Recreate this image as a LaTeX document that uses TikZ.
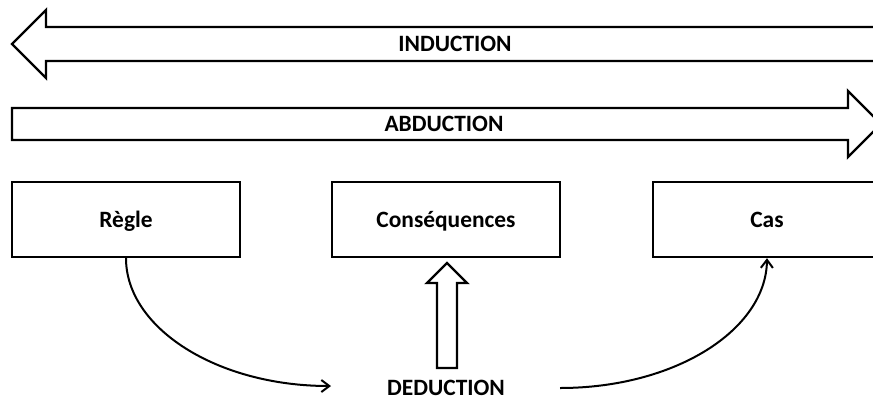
\documentclass[tikz,border=0pt]{standalone}
\usepackage{fontspec}
\setmainfont{Carlito}
\usetikzlibrary{arrows.meta}
\begin{document}
\begin{tikzpicture}[x=1bp,y=-1bp,line width=2.4bp,line join=miter,
  lbl/.style={font=\fontsize{23.5}{26}\selectfont\bfseries,inner sep=0pt,text height=15bp,text depth=0bp},
  box/.style={draw,line width=2.4bp,minimum width=228bp,minimum height=75bp,inner sep=0pt,text height=15bp,text depth=0bp,font=\fontsize{23.5}{26}\selectfont\bfseries},
  hollow/.style={draw,line width=2.4bp,fill=white},
  conn/.style={line width=2bp,-{Straight Barb[length=8bp,width=12bp]}}]
\clip (0,0) rectangle (873,399);
\fill[white] (0,0) rectangle (873,399);
% INDUCTION arrow
\draw[hollow] (12,44) -- (46,10) -- (46,27) -- (895,27) -- (895,61) -- (46,61) -- (46,78) -- cycle;
\node[lbl] (induction) at (455,44) {INDUCTION};
% ABDUCTION arrow
\draw[hollow] (12,108) -- (848,108) -- (848,91) -- (881,124) -- (848,157) -- (848,140) -- (12,140) -- cycle;
\node[lbl] (abduction) at (444,124) {ABDUCTION};
% boxes
\node[box] (regle) at (126,219.5) {Règle};
\node[box] (cons) at (446,219.5) {Conséquences};
\node[box] (cas) at (767,219.5) {Cas};
% deduction
\node[lbl] (deduction) at (446,387.5) {DEDUCTION};
\draw[hollow] (447,263) -- (467,283) -- (457,283) -- (457,368) -- (437,368) -- (437,283) -- (427,283) -- cycle;
% curves
\coordinate (c1) at (331,386);
\coordinate (c2) at (560,388);
\draw[conn] (regle.south) .. controls (126,328) and (217,386) .. (c1);
\draw[conn] (c2) .. controls (675,388) and (766,330) .. (cas.south);
\end{tikzpicture}
\end{document}
